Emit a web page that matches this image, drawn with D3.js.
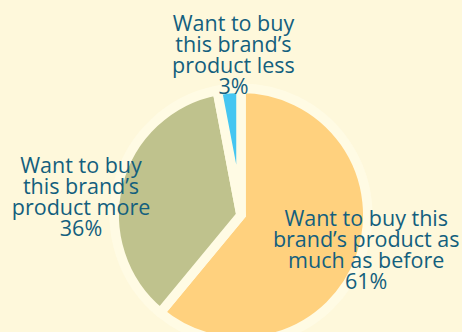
<!DOCTYPE html>
<html>
<head>
<meta charset="utf-8">
<script src="https://cdn.jsdelivr.net/npm/d3@7/dist/d3.min.js"></script>
<style>
  html, body { margin: 0; padding: 0; background: #FEF8DB; }
  svg { display: block; }
  text { font-family: "Open Sans", "Noto Sans", sans-serif; }
</style>
</head>
<body>
<svg id="chart" width="462" height="332"></svg>
<script>
// Survey answers, in the order they run clockwise from 12 o'clock
const categories = [
  "Want to buy this brand’s product as much as before",
  "Want to buy this brand’s product more",
  "Want to buy this brand’s product less"
];
const values = [61, 36, 3];
const labelLines = [
  ["Want to buy this", "brand’s product as", "much as before"],
  ["Want to buy", "this brand’s", "product more"],
  ["Want to buy", "this brand’s", "product less"]
];
const sliceColors = ["#FFD17E", "#BFC28D", "#45C6F1"];

// Layout
const W = 462, H = 332;
const cx = 241, cy = 215;
const radius = 122;        // visible radius of the slices
const gap = 9.5;           // width of the light seam between slices
const haloRadius = 131;
const bg = "#FEF8DB", halo = "#FFFBE4", ink = "#135F7E";
const fontSize = 21.5, lineHeight = 21;
// label anchors: polar position from the pie centre (degrees clockwise from 12 o'clock)
const labelPlacement = [
  { angle: 105.6, dist: 130 },
  { angle: 276.4, dist: 161 },
  { angle: 357.3, dist: 160 }
];

const svg = d3.select("#chart");
svg.append("rect").attr("width", W).attr("height", H).attr("fill", bg);

const g = svg.append("g").attr("transform", `translate(${cx},${cy})`);

// soft halo behind the pie
g.append("circle").attr("r", haloRadius).attr("fill", halo);

const pie = d3.pie().sort(null).value(d => d)(values);
const arc = d3.arc().innerRadius(0).outerRadius(radius + gap / 2);

g.selectAll("path.slice")
  .data(pie)
  .join("path")
  .attr("class", "slice")
  .attr("d", arc)
  .attr("fill", (d, i) => sliceColors[i])
  .attr("stroke", halo)
  .attr("stroke-width", gap)
  .attr("stroke-linejoin", "miter");

// labels: one text per line, tightly leaded
g.selectAll("g.label")
  .data(pie)
  .join("g")
  .attr("class", "label")
  .each(function (d, i) {
    const p = labelPlacement[i];
    const a = p.angle * Math.PI / 180;
    const x = Math.sin(a) * p.dist;
    const y = -Math.cos(a) * p.dist;
    const lines = labelLines[i].concat([d3.format(".0f")(d.value) + "%"]);
    const top = y - (lines.length - 1) * lineHeight / 2 + fontSize * 0.35;
    d3.select(this).selectAll("text")
      .data(lines)
      .join("text")
      .attr("text-anchor", "middle")
      .attr("fill", ink)
      .attr("font-size", fontSize)
      .attr("font-weight", 500)
      .attr("x", x)
      .attr("y", (t, k) => top + k * lineHeight)
      .text(t => t);
  });
</script>
</body>
</html>
